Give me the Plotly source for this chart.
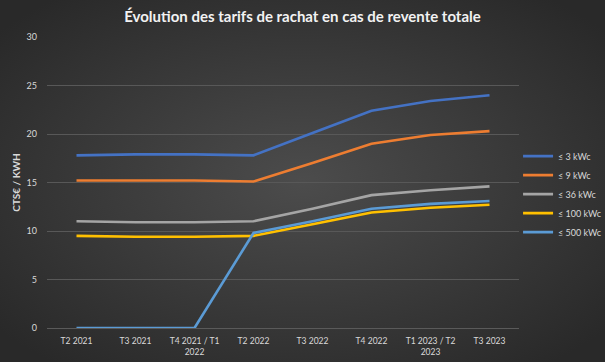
import base64
import plotly.graph_objects as go

categories = ["T2 2021", "T3 2021", "T4 2021 / T1<br>2022", "T2 2022",
              "T3 2022", "T4 2022", "T1 2023 / T2<br>2023", "T3 2023"]
series_names = ["≤ 3 kWc", "≤ 9 kWc", "≤ 36 kWc", "≤ 100 kWc", "≤ 500 kWc"]
s_3kwc = [17.8, 17.9, 17.9, 17.8, 20.1, 22.4, 23.4, 24.0]
s_9kwc = [15.2, 15.2, 15.2, 15.1, 17.0, 19.0, 19.9, 20.3]
s_36kwc = [11.0, 10.9, 10.9, 11.0, 12.3, 13.7, 14.2, 14.6]
s_100kwc = [9.5, 9.4, 9.4, 9.5, 10.7, 11.9, 12.4, 12.7]
s_500kwc = [0, 0, 0, 9.8, 11.0, 12.3, 12.8, 13.1]
series_values = [s_3kwc, s_9kwc, s_36kwc, s_100kwc, s_500kwc]
colors = ["#4472C4", "#ED7D31", "#A5A5A5", "#FFC000", "#5B9BD5"]
y_ticks = [0, 5, 10, 15, 20, 25, 30]

W, H = 605, 362
L, R, T, B = 47, 86, 37, 34
pw, ph = W - L - R, H - T - B

fig = go.Figure()
for name, vals, col in zip(series_names, series_values, colors):
    fig.add_trace(go.Scatter(x=categories, y=vals, name=name, mode="lines",
                             line=dict(color=col, width=2.6)))

svg = (f"<svg xmlns='http://www.w3.org/2000/svg' width='{W}' height='{H}'>"
       "<defs><radialGradient id='g' cx='50%' cy='50%' r='65%'>"
       "<stop offset='0' stop-color='#4c4c4c'/><stop offset='1' stop-color='#292929'/>"
       "</radialGradient></defs>"
       f"<rect width='{W}' height='{H}' fill='url(#g)'/></svg>")
uri = "data:image/svg+xml;base64," + base64.b64encode(svg.encode()).decode()

fig.update_layout(
    width=W, height=H,
    margin=dict(l=L, r=R, t=T, b=B, autoexpand=False),
    paper_bgcolor="#333333", plot_bgcolor="rgba(0,0,0,0)",
    font=dict(family="Lato, Noto Sans, sans-serif", color="#d9d9d9", size=9),
    title=dict(text="<b>Évolution des tarifs de rachat en cas de revente totale</b>",
               x=0.5, xref="container", xanchor="center", y=1 - 17 / H, yanchor="middle",
               font=dict(size=15, color="#f2f2f2", family="Lato, Noto Sans, sans-serif")),
    images=[dict(source=uri, xref="paper", yref="paper", x=-L / pw, y=1 + T / ph,
                 sizex=W / pw, sizey=H / ph, sizing="stretch", layer="below",
                 xanchor="left", yanchor="top")],
    xaxis=dict(showgrid=False, showline=True, linecolor="#5a5a5a", linewidth=1,
               tickfont=dict(size=8.5, color="#d9d9d9"), ticks="", range=[-0.5, 7.5],
               zeroline=False, automargin=False, ticklabelstandoff=5),
    yaxis=dict(range=[0, 30], tickvals=y_ticks, showgrid=True, gridcolor="#585858",
               gridwidth=1, zeroline=False, ticks="", tickfont=dict(size=9, color="#d9d9d9"),
               automargin=False, ticklabelstandoff=9,
               title=dict(text="<b>CTS€ / KWH</b>", standoff=4,
                          font=dict(size=10, color="#d9d9d9"))),
    legend=dict(x=0.998, xanchor="left", y=0.46, yanchor="middle",
                bgcolor="rgba(0,0,0,0)", font=dict(size=9, color="#d9d9d9"),
                tracegroupgap=0, itemwidth=30),
    showlegend=True,
)

fig.write_html("out.html", config={"displayModeBar": False},
               post_script="document.body.style.margin='0';")
